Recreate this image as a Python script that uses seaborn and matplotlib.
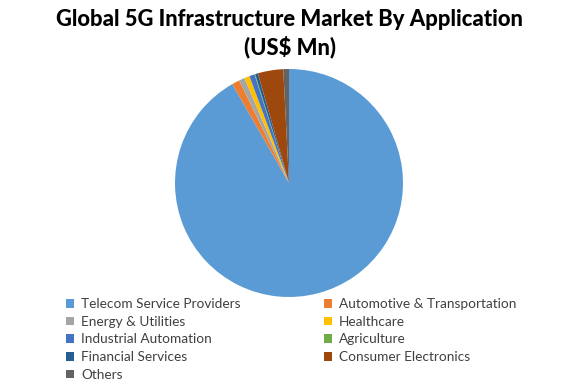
import matplotlib
matplotlib.use("Agg")
import matplotlib.pyplot as plt
from matplotlib.patches import Patch
import seaborn as sns

sns.set_theme(style="white")
plt.rcParams['font.family'] = ['Lato', 'DejaVu Sans']

categories = ["Telecom Service Providers", "Automotive & Transportation", "Energy & Utilities",
              "Healthcare", "Industrial Automation", "Agriculture", "Financial Services",
              "Consumer Electronics", "Others"]
values = [91.8, 1.1, 0.8, 0.75, 0.75, 0.1, 0.4, 3.6, 0.8]
colors = ["#5B9BD5", "#ED7D31", "#A5A5A5", "#FFC000", "#4472C4", "#70AD47", "#255E91", "#9E480E", "#636363"]
palette = sns.color_palette(colors)

W, H = 576, 384
fig = plt.figure(figsize=(W / 100, H / 100), dpi=100)
cx, cy, r = 289, 183, 114
ax = fig.add_axes([(cx - r) / W, (H - cy - r) / H, 2 * r / W, 2 * r / H])
ax.pie(values, colors=palette, startangle=90, counterclock=False, radius=1,
       wedgeprops=dict(linewidth=0))
ax.set_xlim(-1, 1)
ax.set_ylim(-1, 1)
ax.set_aspect('equal')
ax.axis('off')

fig.text(0.503, 1 - 20 / H, "Global 5G Infrastructure Market By Application", ha='center', va='center',
         fontsize=15.8, fontweight='black', color='black')
fig.text(0.503, 1 - 47 / H, "(US$ Mn)", ha='center', va='center',
         fontsize=15.8, fontweight='black', color='black')

order = [0, 2, 4, 6, 8, 1, 3, 5, 7]
handles = [Patch(facecolor=palette[i], edgecolor='none') for i in order]
labels = [categories[i] for i in order]
leg = fig.legend(handles, labels, ncol=2, loc='upper left', bbox_to_anchor=(66 / W, 1 - 298 / H),
                 frameon=False, fontsize=9.8, handlelength=0.6, handleheight=0.6, handletextpad=0.5,
                 columnspacing=6.15, labelspacing=0.42, borderaxespad=0, borderpad=0)
for t in leg.get_texts():
    t.set_color('#404040')

fig.savefig("out.png", dpi=100, facecolor='white')
